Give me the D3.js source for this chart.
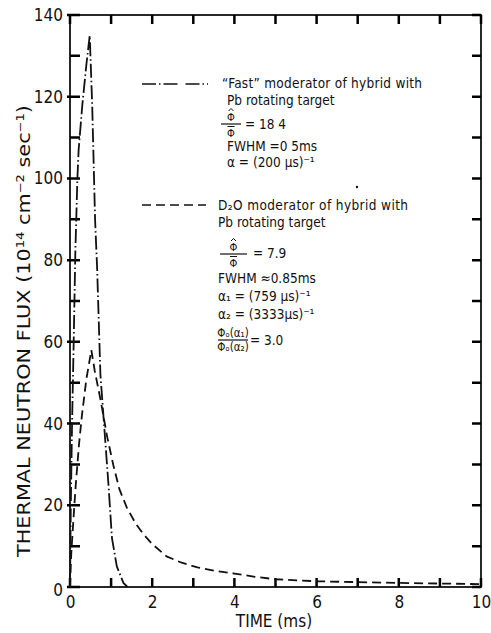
<!DOCTYPE html>
<html>
<head>
<meta charset="utf-8">
<script src="https://cdn.jsdelivr.net/npm/d3@7"></script>
<style>
	body { margin: 0; background: #fff; }
	svg { font-family: "DejaVu Sans Condensed", "Liberation Sans Narrow", sans-serif; }
	.axis text { fill: #111; }
</style>
</head>
<body>
<div id="chart"></div>
<script>
// data (time in ms, flux in 10^14 n/cm2/s)
var fastTime = [0, 0.02, 0.05, 0.09, 0.13, 0.18, 0.21, 0.3, 0.4, 0.48, 0.54, 0.61, 0.66, 0.74, 0.82, 0.94, 1.02, 1.14, 1.3, 1.4]
var fastFlux = [0, 20, 40, 60, 82, 100, 107, 118, 128, 135, 118, 90, 78, 52, 41, 24.5, 12, 5, 1, 0]

var d2oTime = [0, 0.03, 0.08, 0.14, 0.22, 0.29, 0.4, 0.52, 0.6, 0.74, 0.9, 1.05, 1.2, 1.38, 1.6, 1.78, 2.0, 2.35, 2.7, 3.1, 3.5, 4.0, 4.5, 5.0, 6.0, 7.0, 8.0, 9.0, 10]
var d2oFlux = [0, 8, 16, 25, 35, 42, 51, 58, 53, 46, 37, 30, 24, 19.5, 15.5, 13, 10.5, 7.5, 6, 4.8, 4.0, 3.3, 2.5, 1.9, 1.4, 1.2, 1.0, 0.85, 0.7]

var xLabels = [0, 2, 4, 6, 8, 10]
var xMinor = d3.range(0, 11, 1)
var yLabels = [0, 20, 40, 60, 80, 100, 120, 140]
var yMinor = d3.range(0, 141, 10)

var fastText = ['\u201cFast\u201d moderator of hybrid with', 'Pb rotating target']
var fastParams = ['FWHM  =0 5ms', '\u03b1 = (200 \u00b5s)\u207b\u00b9']
var d2oText = ['D\u2082O  moderator of hybrid with', 'Pb rotating target']
var d2oParams = ['FWHM \u22480.85ms', '\u03b1\u2081 =  (759 \u00b5s)\u207b\u00b9', '\u03b1\u2082 =  (3333\u00b5s)\u207b\u00b9']

;(function() {
	var width = 491
	var height = 633
	var padL = 70, padT = 15, padR = 481, padB = 587
	var ink = '#111'

	var svg = d3.select('#chart').append('svg')
		.attr('width', width)
		.attr('height', height)

	var x = d3.scaleLinear().domain([0, 10]).range([padL, padR])
	var y = d3.scaleLinear().domain([0, 140]).range([padB, padT])

	// frame
	svg.append('rect')
		.attr('x', padL).attr('y', padT)
		.attr('width', padR - padL).attr('height', padB - padT)
		.attr('fill', 'none').attr('stroke', ink).attr('stroke-width', 1.8)

	// tick marks as one path, all pointing into the frame
	var p = d3.path()
	xMinor.forEach(function(d) {
		p.moveTo(x(d), padB); p.lineTo(x(d), padB - 9)
		p.moveTo(x(d), padT); p.lineTo(x(d), padT + 9)
	})
	yMinor.forEach(function(d) {
		var major = yLabels.indexOf(d) >= 0
		p.moveTo(major ? padL - 3 : padL, y(d)); p.lineTo(padL + 10, y(d))
		p.moveTo(padR, y(d)); p.lineTo(padR - 9, y(d))
	})
	svg.append('path')
		.attr('d', p.toString())
		.attr('fill', 'none')
		.attr('stroke', '#000')
		.attr('stroke-width', 2.5)

	// tick labels through d3 axes
	function labelAxis(axis, tx, ty) {
		var g = svg.append('g').attr('class', 'axis')
			.attr('transform', 'translate(' + tx + ',' + ty + ')')
			.call(axis)
		g.select('.domain').remove()
		g.selectAll('.tick line').remove()
		g.selectAll('text')
			.attr('font-size', 17)
			.attr('font-family', '"DejaVu Sans Condensed", sans-serif')
		return g
	}
	labelAxis(d3.axisBottom(x).tickValues(xLabels).tickSize(0).tickPadding(9).tickFormat(d3.format('d')), 0, padB)
	var yAx = labelAxis(d3.axisLeft(y).tickValues(yLabels).tickSize(3).tickPadding(2).tickFormat(d3.format('d')), padL - 2, 0)
	yAx.selectAll('.tick').filter(function(d) { return d === 0 }).select('text').attr('dy', '0.5em')

	// axis titles
	svg.append('text')
		.attr('x', 274).attr('y', 627)
		.attr('text-anchor', 'middle')
		.attr('font-size', 17)
		.attr('fill', ink)
		.text('TIME (ms)')

	svg.append('text')
		.attr('transform', 'translate(30,557) rotate(-90)')
		.attr('font-size', 18)
		.attr('fill', ink)
		.attr('textLength', 452)
		.attr('lengthAdjust', 'spacingAndGlyphs')
		.text('THERMAL NEUTRON FLUX (10\u00b9\u2074 cm\u207b\u00b2 sec\u207b\u00b9)')

	// curves
	var line = d3.line()
		.x(function(d) { return x(d[0]) })
		.y(function(d) { return y(d[1]) })

	var fastDash = '14,3,1.5,3'
	var d2oDash = '9,5'

	svg.append('path').datum(d3.zip(fastTime, fastFlux))
		.attr('d', line)
		.attr('fill', 'none').attr('stroke', ink).attr('stroke-width', 1.8)
		.attr('stroke-dasharray', fastDash)

	svg.append('path').datum(d3.zip(d2oTime, d2oFlux))
		.attr('d', line)
		.attr('fill', 'none').attr('stroke', ink).attr('stroke-width', 1.8)
		.attr('stroke-dasharray', d2oDash)

	// legend / annotations
	var note = svg.append('g').attr('font-size', 13.5).attr('fill', ink)

	note.append('line').attr('x1', 142).attr('x2', 208).attr('y1', 84).attr('y2', 84)
		.attr('stroke', ink).attr('stroke-width', 1.7).attr('stroke-dasharray', '14,3,1.5,3,14,8')
	note.append('line').attr('x1', 142).attr('x2', 206).attr('y1', 205).attr('y2', 205)
		.attr('stroke', ink).attr('stroke-width', 1.7).attr('stroke-dasharray', d2oDash)

	function lines(list, x0, y0, step) {
		list.forEach(function(s, i) {
			note.append('text').attr('x', x0).attr('y', y0 + i * step).text(s)
		})
	}

	// phi with a hat (peak) over a phi with a bar (mean)
	function phiRatio(x0, x1, yBar) {
		var cx = (x0 + x1) / 2
		note.append('text').attr('x', cx).attr('y', yBar - 3).attr('text-anchor', 'middle').attr('font-size', 11).text('\u03a6')
		note.append('path').attr('d', 'M' + (cx - 2.5) + ',' + (yBar - 13) + 'L' + cx + ',' + (yBar - 15.5) + 'L' + (cx + 2.5) + ',' + (yBar - 13))
			.attr('fill', 'none').attr('stroke', ink).attr('stroke-width', 1)
		note.append('line').attr('x1', x0).attr('x2', x1).attr('y1', yBar).attr('y2', yBar)
			.attr('stroke', ink).attr('stroke-width', 1.2)
		note.append('line').attr('x1', cx - 3.5).attr('x2', cx + 3.5).attr('y1', yBar + 2.5).attr('y2', yBar + 2.5)
			.attr('stroke', ink).attr('stroke-width', 1)
		note.append('text').attr('x', cx).attr('y', yBar + 12.5).attr('text-anchor', 'middle').attr('font-size', 11).text('\u03a6')
	}

	function fraction(num, den, x0, x1, yBar) {
		var cx = (x0 + x1) / 2
		note.append('text').attr('x', cx).attr('y', yBar - 3).attr('text-anchor', 'middle').attr('font-size', 11.5).text(num)
		note.append('line').attr('x1', x0).attr('x2', x1).attr('y1', yBar).attr('y2', yBar)
			.attr('stroke', ink).attr('stroke-width', 1.2)
		note.append('text').attr('x', cx).attr('y', yBar + 11).attr('text-anchor', 'middle').attr('font-size', 11.5).text(den)
	}

	// fast moderator
	note.append('text').attr('x', 222).attr('y', 88).attr('textLength', 200).text(fastText[0])
	note.append('text').attr('x', 227).attr('y', 105).text(fastText[1])
	phiRatio(221, 241, 124)
	note.append('text').attr('x', 245).attr('y', 129).text('= 18 4')
	lines(fastParams, 227, 151, 16)

	// D2O moderator
	note.append('text').attr('x', 218).attr('y', 210).attr('textLength', 190).text(d2oText[0])
	note.append('text').attr('x', 218).attr('y', 227).text(d2oText[1])
	phiRatio(220, 247, 254)
	note.append('text').attr('x', 253).attr('y', 258).text('= 7.9')
	lines(d2oParams, 218, 283, 18)
	fraction('\u03a6\u2092(\u03b1\u2081)', '\u03a6\u2092(\u03b1\u2082)', 218, 248, 340)
	note.append('text').attr('x', 250).attr('y', 345).text('= 3.0')

	// stray speck in the original print
	note.append('circle').attr('cx', 357).attr('cy', 187).attr('r', 1.2).attr('fill', ink)
})()
</script>
</body>
</html>
